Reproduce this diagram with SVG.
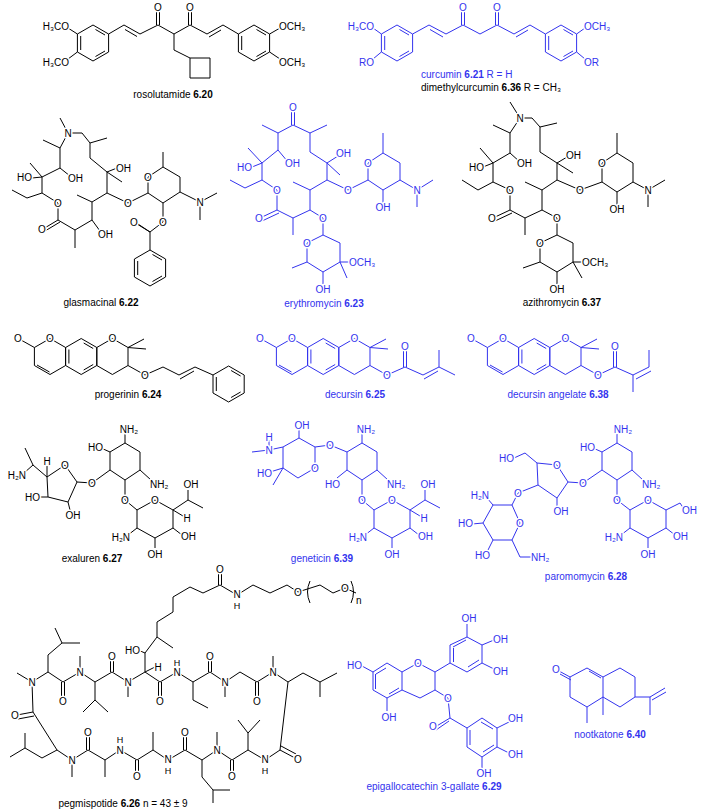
<svg xmlns="http://www.w3.org/2000/svg" width="709" height="811" viewBox="0 0 709 811">
<style>
text{font-family:"Liberation Sans",Arial,sans-serif;font-size:10px;fill:#000}
.a,.e,.s{paint-order:stroke;stroke:#fff;stroke-width:3px;stroke-linejoin:round}
.a{text-anchor:middle}.e{text-anchor:end}
.m{text-anchor:middle}
.h{font-size:9px}
.k path,.k use{stroke:#000;fill:none;stroke-width:1}
.k text{fill:#000}
.u path,.u use{stroke:#3333ee;fill:none;stroke-width:1}
.u text{fill:#3333ee}
</style>
<defs>
<path id="hx" d="M0,-18 L15.6,-9 L15.6,9 L0,18 L-15.6,9 L-15.6,-9Z"/>
<path id="bz" d="M0,-18 L15.6,-9 L15.6,9 L0,18 L-15.6,9 L-15.6,-9Z M2.5,-13.5 L12,-8 M12,8 L2.5,13.5 M-12.3,7 L-12.3,-7"/>
</defs>
<rect width="709" height="811" fill="#fff"/>

<g id="rosolutamide" class="k">
<use href="#bz" x="93" y="43"/><use href="#bz" x="254" y="43"/>
<path d="M108.6,34 L124,25 L140,34 L158,25 L174,34 L190,25 L207,34 L223,25 L238.4,34 M125,29.5 L137,36.5 M209,37 L221,30 M156.5,25 V11 M159.5,25 V11 M188.5,25 V11 M191.5,25 V11 M174,34 V50 L190,58 M190,58 L210,58 L210,78 L190,78 Z M77.4,34 L68,28 M77.4,52 L68,59 M269.6,34 L280,28 M269.6,52 L280,59"/>
<text class="a" x="158" y="11">O</text><text class="a" x="190" y="11">O</text>
<text class="e" x="69" y="30">H₃CO</text><text class="e" x="69" y="66">H₃CO</text><text class="s" x="279" y="30">OCH₃</text><text class="s" x="279" y="66">OCH₃</text>
<text class="m" x="173" y="98">rosolutamide <tspan font-weight="bold">6.20</tspan></text>
</g>

<g id="curcumin" class="u">
<use href="#bz" x="397" y="43"/><use href="#bz" x="561" y="43"/>
<path d="M412.6,34 L429,25 L446,34 L463,25 L480,34 L497,25 L514,34 L530,25 L545.4,34 M430,29.5 L443,37 M516,37 L528,30 M461.5,25 V11 M464.5,25 V11 M495.5,25 V11 M498.5,25 V11 M381.4,34 L373,28 M381.4,52 L373,59 M576.6,34 L585,28 M576.6,52 L585,59"/>
<text class="a" x="463" y="11">O</text><text class="a" x="497" y="11">O</text>
<text class="e" x="374" y="30">H₃CO</text><text class="e" x="374" y="66">RO</text><text class="s" x="584" y="30">OCH₃</text><text class="s" x="584" y="66">OR</text>
<text x="421" y="78">curcumin <tspan font-weight="bold">6.21</tspan> R = H</text>
</g>
<text x="421" y="91">dimethylcurcumin <tspan font-weight="bold">6.36</tspan> R = CH₃</text>

<g id="glasmacinal" class="k">
<path d="M68,133 L82,133 L90,143 L90,158 L107,172 L107,193 L92,202 L92,220 L75,230 L58,220 L58,203 L42,193 L42,177 L60,168 L60,148 Z"/>
<path d="M68,133 L60,118 M90,143 L107,138 M107,172 L117,168 M107,172 L122,182 M92,202 L77,195 M92,220 L100,231 M75,230 V248 M58,220 L43,229 M60,222 L45,231 M42,193 L27,198 L12,190 M42,177 L32,178 M42,177 L30,163 M60,168 L70,176 M60,148 L43,140"/>
<path d="M107,193 L128,203 L148,193 M148,177 L163,167 L180,177 L180,192 L163,203 L148,193 Z M163,167 V152 M180,192 L200,202 L217,193 M200,202 V220 M163,203 V222 L150,232 L135,222 M150,232 L137,224 M150,232 V250"/>
<use href="#bz" x="150" y="268"/>
<text class="a" x="68" y="137">N</text><text class="s" x="116" y="172">OH</text><text class="e" x="32" y="181">HO</text><text class="s" x="68" y="182">OH</text><text class="s" x="98" y="238">OH</text>
<text class="a" x="58" y="207">O</text><text class="a" x="42" y="233">O</text><text class="a" x="128" y="207">O</text><text class="a" x="148" y="181">O</text><text class="a" x="200" y="206">N</text><text class="a" x="163" y="226">O</text><text class="a" x="134" y="226">O</text>
<text class="m" x="101" y="306">glasmacinal <tspan font-weight="bold">6.22</tspan></text>
</g>

<g id="erythromycin" class="u">
<path d="M293,125 L310,133 L310,152 L327,163 L327,180 L310,190 L310,210 L293,218 L277,210 L277,190 L262,180 L262,163 L278,150 L278,133 Z"/>
<path d="M291.5,125 V110 M294.5,125 V110 M310,133 L327,125 M327,163 L338,156 M327,163 L340,175 M310,190 L293,182 M293,218 V235 M277,210 L260,218 M279,213 L262,221 M262,180 L245,188 L230,180 M262,163 L252,167 M262,163 L248,148 M278,150 L288,162 M278,133 L262,125"/>
<path d="M327,180 L348,190 L368,180 M368,180 L368,163 L383,153 L400,163 L400,180 L383,190 Z M383,153 V133 M400,180 L417,190 L433,180 M417,190 V207 M383,190 V203"/>
<path d="M310,210 L323,218 L323,235 M323,235 L340,243 L340,262 L323,272 L307,262 L307,243 Z M340,262 L350,262 M340,262 L347,278 M323,272 V284 M307,262 L292,268"/>
<text class="a" x="293" y="111">O</text><text class="s" x="336" y="157">OH</text><text class="e" x="252" y="171">HO</text><text class="s" x="285" y="167">OH</text>
<text class="a" x="277" y="194">O</text><text class="a" x="259" y="222">O</text><text class="a" x="348" y="194">O</text><text class="a" x="368" y="167">O</text><text class="a" x="417" y="194">N</text><text class="a" x="383" y="211">OH</text>
<text class="a" x="323" y="222">O</text><text class="a" x="307" y="247">O</text><text class="s" x="349" y="266">OCH₃</text><text class="a" x="323" y="293">OH</text>
<text class="m" x="324" y="307">erythromycin <tspan font-weight="bold">6.23</tspan></text>
</g>

<g id="azithromycin" class="k">
<path d="M520,118 L532,118 L540,127 L540,152 L557,163 L557,180 L542,190 L542,210 L525,218 L510,210 L510,190 L493,182 L493,163 L510,153 L510,133 Z"/>
<path d="M520,118 L510,102 M540,127 L557,123 M557,163 L567,157 M557,163 L573,173 M542,190 L525,182 M525,218 V235 M510,210 L493,218 M512,213 L495,221 M493,182 L478,190 L462,180 M493,163 L483,167 M493,163 L480,148 M510,153 L520,162 M510,133 L493,125"/>
<path d="M557,180 L580,190 L602,182 M602,182 L602,163 L617,153 L633,163 L633,182 L617,192 Z M617,153 V133 M633,182 L648,190 L665,180 M648,190 V207 M617,192 V205"/>
<path d="M542,210 L557,218 L557,235 M557,235 L573,243 L573,262 L557,272 L540,262 L540,243 Z M573,262 L583,262 M573,262 L582,278 M557,272 V284 M540,262 L523,268"/>
<text class="a" x="520" y="122">N</text><text class="s" x="566" y="159">OH</text><text class="e" x="484" y="171">HO</text><text class="s" x="517" y="167">OH</text>
<text class="a" x="510" y="194">O</text><text class="a" x="492" y="222">O</text><text class="a" x="580" y="194">O</text><text class="a" x="602" y="167">O</text><text class="a" x="648" y="194">N</text><text class="a" x="617" y="213">OH</text>
<text class="a" x="557" y="222">O</text><text class="a" x="540" y="247">O</text><text class="s" x="582" y="266">OCH₃</text><text class="a" x="557" y="293">OH</text>
<text class="m" x="562" y="306">azithromycin <tspan font-weight="bold">6.37</tspan></text>
</g>

<g id="progerinin" class="k">
<use href="#hx" x="50" y="356.5"/><use href="#bz" x="81.2" y="356.5"/><use href="#hx" x="112.4" y="356.5"/>
<path d="M34.4,347.5 L21,340 M37,365 L49.5,372 M128,347.5 L144,339 M128,347.5 L146,349 M128,365.5 L145,375 L163,367 L179,375 L195,367 L213,375 M180,379 L194,371"/>
<use href="#bz" x="228.6" y="384"/>
<text class="a" x="18" y="342">O</text><text class="a" x="50" y="342">O</text><text class="a" x="112.4" y="342">O</text><text class="a" x="145" y="379">O</text>
<text class="m" x="128" y="398">progerinin <tspan font-weight="bold">6.24</tspan></text>
</g>

<g id="decursin" class="u">
<use href="#hx" x="292" y="356.5"/><use href="#bz" x="323.2" y="356.5"/><use href="#hx" x="354.4" y="356.5"/>
<path d="M276.4,347.5 L263,340 M279,365 L291.5,372 M370,347.5 L386,339 M370,347.5 L388,349 M370,365.5 L387,375 L405,367 L423,375 L439,367 L439,350 M439,367 L455,375 M403.5,367 V351 M406.5,367 V351 M424,379 L438,371"/>
<text class="a" x="260" y="342">O</text><text class="a" x="292" y="342">O</text><text class="a" x="354.4" y="342">O</text><text class="a" x="387" y="379">O</text><text class="a" x="405" y="350">O</text>
<text class="m" x="355" y="398">decursin <tspan font-weight="bold">6.25</tspan></text>
</g>

<g id="decursin_angelate" class="u">
<use href="#hx" x="503" y="356.5"/><use href="#bz" x="534.2" y="356.5"/><use href="#hx" x="565.4" y="356.5"/>
<path d="M487.4,347.5 L474,340 M490,365 L502.5,372 M581,347.5 L597,339 M581,347.5 L599,349 M581,365.5 L598,375 L615,367 L633,375 L649,367 L649,350 M633,375 V392 M613.5,367 V351 M616.5,367 V351 M636,379 L651,371"/>
<text class="a" x="471" y="342">O</text><text class="a" x="503" y="342">O</text><text class="a" x="565.4" y="342">O</text><text class="a" x="598" y="379">O</text><text class="a" x="615" y="350">O</text>
<text class="m" x="558" y="398">decursin angelate <tspan font-weight="bold">6.38</tspan></text>
</g>

<g id="exaluren" class="k">
<path d="M65,465 L77,482 L68,502 L48,497 L47,477 Z M77,482 L92,483 L110,470 M68,502 L70,510 M48,497 L38,497 M47,477 V466 M47,477 L33,465 L25,448 M33,465 L24,473"/>
<path d="M110,452 L125,443 L140,452 L140,470 L125,480 L110,470 Z M110,452 L101,448 M125,443 V434 M140,470 L151,480 M125,480 V500 L137,510"/>
<path d="M137,510 L155,500 L173,510 L173,528 L155,538 L137,528 Z M173,510 L188,500 L203,508 M188,500 V490 M173,510 L183,516 M173,528 L182,535 M155,538 V548 M137,528 L128,535"/>
<text class="a" x="65" y="469">O</text><text class="a" x="92" y="487">O</text><text class="a" x="73" y="519">OH</text><text class="e" x="40" y="501">HO</text><text class="a" x="47" y="465">H</text><text class="e" x="26" y="479">H₂N</text>
<text class="e" x="103" y="451">HO</text><text class="a" x="129" y="433">NH₂</text><text class="s" x="150" y="488">NH₂</text><text class="a" x="125" y="504">O</text>
<text class="a" x="155" y="504">O</text><text class="a" x="191" y="488">OH</text><text class="a" x="187" y="522">H</text><text class="s" x="181" y="540">OH</text><text class="a" x="155" y="558">OH</text><text class="e" x="130" y="541">H₂N</text>
<text class="m" x="92" y="562">exaluren <tspan font-weight="bold">6.27</tspan></text>
</g>

<g id="geneticin" class="u">
<path d="M283,447 L299,438 L315,447 L315,468 L298,478 L283,468 Z M283,447 L269,450 L252,452 M269,450 V440 M299,438 V429 M315,447 L330,445 L347,452 M283,468 L270,472 M283,468 L273,485"/>
<path d="M347,452 L362,443 L377,452 L377,470 L362,480 L347,470 Z M362,443 V434 M377,470 L388,480 M347,470 L337,478 M362,480 V500 L374,510"/>
<path d="M374,510 L392,500 L410,510 L410,528 L392,538 L374,528 Z M410,510 L425,500 L440,508 M425,500 V490 M410,510 L420,516 M410,528 L419,535 M392,538 V548 M374,528 L365,535"/>
<text class="a" x="269" y="454">N</text><text class="a" x="269" y="441">H</text><text class="a" x="302" y="429">OH</text><text class="a" x="330" y="449">O</text><text class="a" x="315" y="472">O</text><text class="e" x="272" y="477">HO</text>
<text class="a" x="366" y="433">NH₂</text><text class="s" x="387" y="488">NH₂</text><text class="e" x="340" y="488">HO</text><text class="a" x="362" y="504">O</text>
<text class="a" x="392" y="504">O</text><text class="a" x="428" y="488">OH</text><text class="a" x="424" y="522">H</text><text class="s" x="418" y="540">OH</text><text class="a" x="392" y="558">OH</text><text class="e" x="367" y="541">H₂N</text>
<text class="m" x="322" y="562">geneticin <tspan font-weight="bold">6.39</tspan></text>
</g>

<g id="paromomycin" class="u">
<path d="M602,452 L617,443 L632,452 L632,470 L617,480 L602,470 Z M602,452 L593,448 M617,443 V434 M632,470 L643,480 M617,480 V500 L630,510 M602,470 L583,483"/>
<path d="M630,510 L648,500 L666,510 L666,528 L648,538 L630,528 Z M666,510 L680,503 L684,509 M666,528 L675,535 M648,538 V548 M630,528 L621,535"/>
<path d="M557,465 L568,482 L557,498 L538,485 L537,463 Z M568,482 L583,483 M557,498 V506 M538,485 L518,493 L512,505 M537,463 L525,453 L514,458"/>
<path d="M493,505 L512,505 L520,523 L512,540 L493,540 L483,523 Z M493,505 L487,498 M483,523 L472,524 M493,540 L488,550 M512,540 L520,557 L532,557"/>
<text class="e" x="595" y="451">HO</text><text class="a" x="623" y="433">NH₂</text><text class="s" x="642" y="488">NH₂</text><text class="a" x="617" y="504">O</text><text class="a" x="583" y="487">O</text>
<text class="a" x="648" y="504">O</text><text class="s" x="682" y="514">OH</text><text class="s" x="673" y="540">OH</text><text class="a" x="648" y="558">OH</text><text class="e" x="623" y="541">H₂N</text>
<text class="a" x="557" y="469">O</text><text class="a" x="561" y="515">OH</text><text class="a" x="518" y="497">O</text><text class="e" x="514" y="462">HO</text>
<text class="e" x="489" y="499">H₂N</text><text class="a" x="520" y="527">O</text><text class="e" x="473" y="527">HO</text><text class="e" x="490" y="559">HO</text><text class="s" x="531" y="561">NH₂</text>
<text class="m" x="586" y="580">paromomycin <tspan font-weight="bold">6.28</tspan></text>
</g>

<g id="pegmispotide" class="k">
<path d="M32,682 L48,672 L63,682 L80,672 L95,682 L112,672 L128,682 L145,672 L160,682 L177,672 L193,682 L210,672 L225,682 L240,672 L257,682 L273,672 L288,682 L280,750 L265,760 L248,750 L232,760 L217,750 L202,760 L185,750 L168,760 L153,750 L137,760 L120,750 L105,760 L88,750 L72,760 L57,750 L33,712 L32,682"/>
<path d="M32,682 L17,673 M48,672 V655 L62,643 L80,643 M62,643 L55,628 M61.5,682 V698 M64.5,682 V698 M80,672 V656 M95,682 V700 L83,712 M95,700 L108,712 M110.5,672 V658 M113.5,672 V658 M128,682 V697 M145,672 L155,667 M145,672 V653 L138,650 M145,653 L157,637 L173,648 M158.5,682 V698 M161.5,682 V698 M193,682 V700 L208,708 M208.5,672 V658 M211.5,672 V658 M225,682 V697 M255.5,682 V698 M258.5,682 V698 M273,672 V656 M288,682 L303,673 L320,682 L337,673 M320,682 V697"/>
<path d="M280,750 L295,758 M281,746 L296,754 M248,750 V733 L238,720 M248,733 L260,720 M230.5,760 V775 M233.5,760 V775 M217,750 V732 M202,760 V777 L213,790 L230,790 M213,790 V803 M183.5,750 V735 M186.5,750 V735 M153,750 V732 M135.5,760 V775 M138.5,760 V775 M105,760 V777 M86.5,750 V735 M89.5,750 V735 M72,760 V777 M57,750 L42,758 L25,748 L10,757 M25,748 V733 M33,712 L17,715 M34,716 L18,719"/>
<path d="M157,637 L157,622 L173,612 L173,597 L190,587 L203,593 L220,585 L237,595 L253,585 L270,593 L287,585 L298,592 L320,585 L333,593 L345,588 L356,593 M218.5,585 V572 M221.5,585 V572 M310,581 Q305,592 310,603 M351,581 Q356,592 351,603"/>
<text class="a" x="32" y="686">N</text><text class="a" x="80" y="676">N</text><text class="a" x="128" y="686">N</text><text class="a" x="177" y="676">N</text><text class="a h" x="177" y="666">H</text><text class="a" x="225" y="686">N</text><text class="a" x="273" y="676">N</text>
<text class="a" x="63" y="705">O</text><text class="a" x="112" y="660">O</text><text class="a" x="160" y="705">O</text><text class="a" x="210" y="660">O</text><text class="a" x="257" y="705">O</text>
<text class="e" x="140" y="654">HO</text><text class="a" x="158" y="671">H</text>
<text class="a" x="220" y="573">O</text><text class="a" x="237" y="598">N</text><text class="a h" x="237" y="609">H</text><text class="a" x="298" y="596">O</text><text class="a" x="345" y="592">O</text><text x="356" y="604" font-size="7">n</text>
<text class="a" x="298" y="763">O</text><text class="a" x="265" y="763">N</text><text class="a h" x="265" y="774">H</text><text class="a" x="232" y="780">O</text><text class="a" x="217" y="754">N</text><text class="a" x="185" y="736">O</text><text class="a" x="168" y="763">N</text><text class="a h" x="168" y="774">H</text><text class="a" x="137" y="780">O</text><text class="a" x="120" y="754">N</text><text class="a h" x="120" y="743">H</text><text class="a" x="88" y="736">O</text><text class="a" x="72" y="764">N</text><text class="a" x="15" y="719">O</text>
<text class="m" x="123" y="807">pegmispotide <tspan font-weight="bold">6.26</tspan> n = 43 ± 9</text>
</g>

<g id="egcg" class="u">
<path d="M373,672 L387,663 L402,672 L402,690 L387,698 L373,690 Z M376,674 L386,668 M399,688 L389,694 M375.5,689 V674 M373,672 L362,666 M387,698 V711"/>
<path d="M402,672 L418,663 L435,672 L435,690 L420,698 L402,690 M435,672 L450,663 M435,690 L448,698 L450,718 L435,727 M449,721 L436,730 M450,718 L467,728"/>
<path d="M450,663 L450,645 L467,637 L482,645 L482,663 L467,672 Z M453,647 L466,640 M479,660 L468,667 M453.5,662 V648 M467,637 V624 M482,645 L494,640 M482,663 L494,669"/>
<path d="M467,728 L482,718 L497,728 L497,747 L482,757 L467,747 Z M481,722 L493,729 M494,745 L483,752 M470,745 V730 M497,728 L509,722 M497,747 L509,753 M482,757 V768"/>
<text class="e" x="362" y="669">HO</text><text class="a" x="389" y="721">OH</text><text class="a" x="418" y="667">O</text><text class="a" x="448" y="702">O</text><text class="a" x="433" y="730">O</text>
<text class="a" x="469" y="622">OH</text><text class="s" x="493" y="643">OH</text><text class="s" x="493" y="675">OH</text><text class="s" x="508" y="722">OH</text><text class="s" x="508" y="758">OH</text><text class="a" x="484" y="777">OH</text>
<text class="m" x="434" y="790">epigallocatechin 3-gallate <tspan font-weight="bold">6.29</tspan></text>
</g>

<g id="nootkatone" class="u">
<path d="M570,677 L587,668 L603,677 L603,697 L587,707 L570,697 Z M589,671 L601,678 M570,677 L559,671 M571,680 L560,674 M587,707 V723 M603,697 V715 M603,677 L620,668 L635,677 L635,697 L620,707 L603,697 M635,697 L650,697 L665,688 M652,700 L666,692 M650,697 V715"/>
<text class="a" x="556" y="673">O</text>
<text class="m" x="610" y="738">nootkatone <tspan font-weight="bold">6.40</tspan></text>
</g>
</svg>
